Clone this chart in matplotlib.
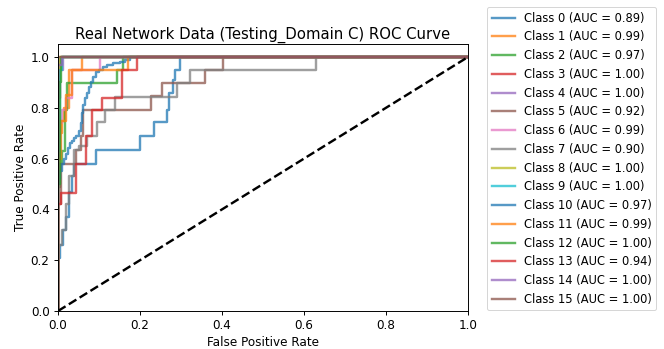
import numpy as np
import matplotlib
matplotlib.use("Agg")
import matplotlib.pyplot as plt

# --- DATA ---
class_names = [f"Class {i}" for i in range(16)]
auc_values = [0.89, 0.99, 0.97, 1.00, 1.00, 0.92, 0.99, 0.90,
              1.00, 1.00, 0.97, 0.99, 1.00, 0.94, 1.00, 1.00]

# each point = (fpr where the step happens, tpr after the step)
fpr_0 = [0, 0, 0.005, 0.012, 0.02, 0.027, 0.035, 0.04, 0.092, 0.2, 0.235, 0.267, 0.27, 0.28, 0.285, 0.298, 1]
tpr_0 = [0, 0.21, 0.26, 0.32, 0.37, 0.47, 0.53, 0.58, 0.634, 0.69, 0.745, 0.79, 0.86, 0.91, 0.95, 1.0, 1]
fpr_1 = [0, 0, 0.005, 0.01, 0.015, 0.027, 0.059, 1]
tpr_1 = [0, 0.55, 0.7, 0.75, 0.8, 0.95, 1.0, 1]
fpr_2 = [0, 0, 0.005, 0.01, 0.017, 0.021, 0.143, 0.158, 1]
tpr_2 = [0, 0.49, 0.58, 0.63, 0.79, 0.896, 0.95, 1.0, 1]
fpr_3 = [0, 0, 0.005, 0.008, 1]
tpr_3 = [0, 0.84, 0.95, 1.0, 1]
fpr_4 = [0, 0, 0.012, 1]
tpr_4 = [0, 0.95, 1.0, 1]
fpr_5 = [0, 0, 0.007, 0.045, 0.055, 0.062, 0.228, 0.253, 0.359, 0.403, 1]
tpr_5 = [0, 0.42, 0.58, 0.634, 0.69, 0.79, 0.846, 0.896, 0.95, 1.0, 1]
fpr_6 = [0, 0, 0.005, 0.01, 0.02, 0.035, 0.102, 1]
tpr_6 = [0, 0.63, 0.74, 0.79, 0.84, 0.95, 1.0, 1]
fpr_7 = [0, 0, 0.01, 0.02, 0.027, 0.039, 0.051, 0.07, 0.094, 0.115, 0.139, 0.29, 0.322, 0.629, 1]
tpr_7 = [0, 0.26, 0.32, 0.42, 0.53, 0.634, 0.65, 0.69, 0.745, 0.79, 0.844, 0.896, 0.95, 1.0, 1]
fpr_8 = [0, 0, 0.005, 1]
tpr_8 = [0, 0.9, 1.0, 1]
fpr_9 = [0, 0, 0.005, 0.01, 1]
tpr_9 = [0, 0.63, 0.95, 1.0, 1]
fpr_10 = [0, 0, 0.003, 0.006, 0.01, 0.015, 0.02, 0.025, 0.03, 0.035, 0.04, 0.045, 0.05, 0.055,
          0.058, 0.062, 0.066, 0.07, 0.075, 0.08, 0.086, 0.092, 0.1, 0.11, 0.12, 0.135, 0.15,
          0.163, 0.176, 1]
tpr_10 = [0, 0.5, 0.52, 0.55, 0.58, 0.6, 0.62, 0.64, 0.66, 0.67, 0.68, 0.69, 0.71, 0.74,
          0.78, 0.81, 0.84, 0.86, 0.88, 0.9, 0.92, 0.94, 0.95, 0.96, 0.97, 0.975, 0.98,
          0.99, 1.0, 1]
fpr_11 = [0, 0, 0.008, 0.02, 0.035, 0.17, 1]
tpr_11 = [0, 0.6, 0.75, 0.85, 0.95, 1.0, 1]
fpr_12 = [0, 0, 0.004, 0.008, 1]
tpr_12 = [0, 0.5, 0.9, 1.0, 1]
fpr_13 = [0, 0, 0.007, 0.043, 0.069, 0.082, 0.107, 0.155, 0.192, 1]
tpr_13 = [0, 0.42, 0.465, 0.58, 0.69, 0.79, 0.84, 0.95, 1.0, 1]
fpr_14 = [0, 0, 0.01, 1]
tpr_14 = [0, 0.97, 1.0, 1]
fpr_15 = [0, 0, 1]
tpr_15 = [0, 1.0, 1]

all_fpr = [fpr_0, fpr_1, fpr_2, fpr_3, fpr_4, fpr_5, fpr_6, fpr_7,
           fpr_8, fpr_9, fpr_10, fpr_11, fpr_12, fpr_13, fpr_14, fpr_15]
all_tpr = [tpr_0, tpr_1, tpr_2, tpr_3, tpr_4, tpr_5, tpr_6, tpr_7,
           tpr_8, tpr_9, tpr_10, tpr_11, tpr_12, tpr_13, tpr_14, tpr_15]

# --- STYLE (reference looks ~1.2x the default 72 dpi sizes) ---
S = 1.2
plt.rcParams["font.size"] = 10 * S
plt.rcParams["axes.linewidth"] = 0.8 * S
for a in ("xtick", "ytick"):
    plt.rcParams[f"{a}.major.size"] = 3.5 * S
    plt.rcParams[f"{a}.major.width"] = 0.8 * S
    plt.rcParams[f"{a}.major.pad"] = 3.5 * S

# --- PLOT ---
W, H, DPI = 664, 349, 72
fig = plt.figure(figsize=(W / DPI, H / DPI), dpi=DPI)
ax = fig.add_axes([58 / W, (H - 311) / H, 410 / W, 266.7 / H])

for name, auc, fpr, tpr in zip(class_names, auc_values, all_fpr, all_tpr):
    ax.step(fpr, tpr, where="post", lw=2 * S, alpha=0.75, label=f"{name} (AUC = {auc:.2f})")

ax.plot([0, 1], [0, 1], "k--", lw=2 * S)
ax.set_xlim(0.0, 1.0)
ax.set_ylim(0.0, 1.05)
ax.set_xlabel("False Positive Rate")
ax.set_ylabel("True Positive Rate")
ax.set_title("Real Network Data (Testing_Domain C) ROC Curve", fontsize=12.4 * S)
ax.legend(loc="upper left", bbox_to_anchor=(487 / W, 1 - 7 / H),
          bbox_transform=fig.transFigure, borderaxespad=0, fontsize=11.5)

fig.savefig("out.png", dpi=DPI)
plt.close(fig)
